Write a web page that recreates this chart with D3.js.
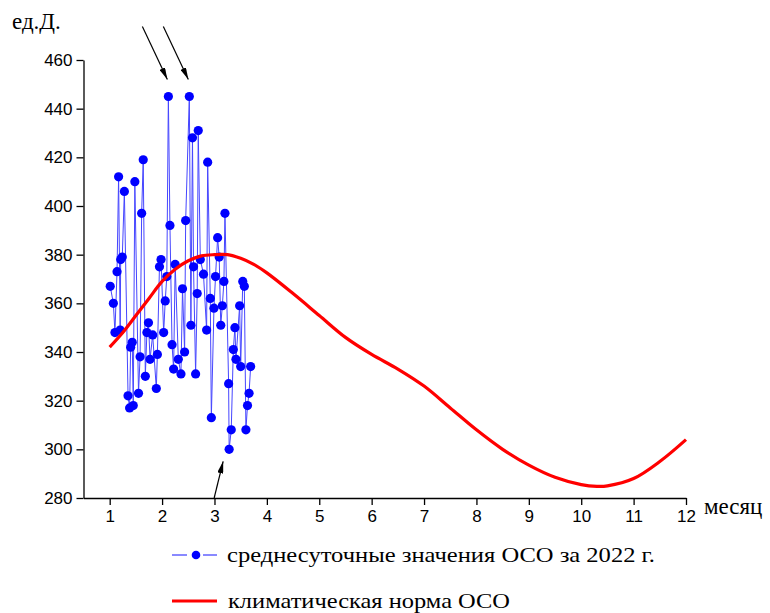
<!DOCTYPE html>
<html>
<head>
<meta charset="utf-8">
<script src="https://cdn.jsdelivr.net/npm/d3@7"></script>
<style>
  html, body { margin: 0; padding: 0; background: #fff; }
  svg { display: block; }
</style>
</head>
<body>
<svg id="chart" width="770" height="613"></svg>
<script>
// ---- data ----
const obsMonth = [1.01,1.07,1.10,1.14,1.17,1.20,1.21,1.24,1.28,1.35,1.38,1.40,1.43,1.45,1.48,1.55,1.58,1.61,1.64,1.68,1.71,1.74,1.77,1.82,1.89,1.91,1.95,1.98,2.03,2.06,2.09,2.12,2.15,2.19,2.22,2.25,2.31,2.36,2.39,2.43,2.45,2.52,2.55,2.58,2.60,2.64,2.67,2.69,2.73,2.79,2.85,2.87,2.92,2.94,2.99,3.02,3.06,3.09,3.12,3.15,3.18,3.20,3.27,3.28,3.32,3.36,3.39,3.41,3.48,3.50,3.54,3.57,3.60,3.63,3.66,3.69];
const obsValue = [367,360,348,373,412,349,378,379,406,322,317,342,344,318,410,323,338,397,419,330,348,352,337,347,325,339,375,378,348,361,371,445,392,343,333,376,337,331,366,340,394,445,351,428,375,331,364,431,378,372,349,418,362,313,358,371,387,379,351,359,369,397,327,300,308,341,350,337,359,334,369,367,308,318,323,334];

const normMonth = [1.0,1.25,1.5,1.75,2.0,2.25,2.5,2.75,3.0,3.25,3.5,3.75,4.0,4.5,5.0,5.5,6.0,6.5,7.0,7.5,8.0,8.5,9.0,9.5,10.0,10.3,10.5,11.0,11.5,12.0];
const normValue = [342,348,355,362,369,374,377.5,379.5,380,380,378.5,376,372.5,364,355,346,339,333,326,317,308,300,293.5,288.5,285.5,284.8,285,288,295,304];

const xTicks = [1,2,3,4,5,6,7,8,9,10,11,12];
const yTicks = [280,300,320,340,360,380,400,420,440,460];

const yLabel = "ед.Д.";
const xLabel = "месяц";
const legendObs = "среднесуточные значения ОСО за 2022 г.";
const legendNorm = "климатическая норма ОСО";

// highlighted observations (indices into obsValue) for arrows
const arrowUp = [31, 41];   // the two 445 peaks
const arrowLow = [63];      // the 300 minimum

// ---- drawing ----
const svg = d3.select("#chart");
const x = d3.scaleLinear().domain([0.5, 12]).range([83.5, 686]);
const y = d3.scaleLinear().domain([280, 460]).range([498, 60]);

const sans = "Arial, 'Liberation Sans', sans-serif";
const serif = "'Times New Roman', 'Liberation Serif', serif";

// axes
const xAxis = svg.append("g")
  .attr("transform", `translate(0,${y(280)})`)
  .call(d3.axisBottom(x).tickValues(xTicks).tickFormat(d3.format("d")).tickSize(7).tickSizeOuter(0).tickPadding(5));
const yAxis = svg.append("g")
  .attr("transform", `translate(${x(0.5)},0)`)
  .call(d3.axisLeft(y).tickValues(yTicks).tickFormat(d3.format("d")).tickSize(7).tickSizeOuter(0).tickPadding(4));
[xAxis, yAxis].forEach(g => {
  g.select(".domain").attr("stroke", "#000").attr("stroke-width", 1.3);
  g.selectAll(".tick line").attr("stroke", "#000").attr("stroke-width", 1.3);
  g.selectAll(".tick text").attr("fill", "#000").style("font-family", sans).style("font-size", "17px");
});

// axis titles
svg.append("text").attr("x", 12).attr("y", 29)
  .style("font-family", serif).style("font-size", "23px").text(yLabel);
svg.append("text").attr("x", 704).attr("y", 514)
  .style("font-family", serif).style("font-size", "23px").text(xLabel);

// observed series
const obs = obsMonth.map((m, i) => ({ m, v: obsValue[i] }));
svg.append("path").datum(obs)
  .attr("fill", "none").attr("stroke", "#4646ff").attr("stroke-width", 1)
  .attr("d", d3.line().x(d => x(d.m)).y(d => y(d.v)));
svg.append("g").selectAll("circle").data(obs).join("circle")
  .attr("cx", d => x(d.m)).attr("cy", d => y(d.v)).attr("r", 4.6)
  .attr("fill", "#0000ff");

// climatic norm
const norm = normMonth.map((m, i) => ({ m, v: normValue[i] }));
svg.append("path").datum(norm)
  .attr("fill", "none").attr("stroke", "#ff0000").attr("stroke-width", 3.2)
  .attr("d", d3.line().curve(d3.curveCatmullRom.alpha(0.5)).x(d => x(d.m)).y(d => y(d.v)));

// arrows
const defs = svg.append("defs");
defs.append("marker").attr("id", "ah").attr("viewBox", "0 0 12 6")
  .attr("refX", 12).attr("refY", 3).attr("markerWidth", 12).attr("markerHeight", 6)
  .attr("markerUnits", "userSpaceOnUse").attr("orient", "auto")
  .append("path").attr("d", "M0,0 L12,3 L0,6 Z").attr("fill", "#000");

arrowUp.forEach(i => {
  const px = x(obsMonth[i]), py = y(obsValue[i]);
  svg.append("line")
    .attr("x1", px - 26).attr("y1", py - 70).attr("x2", px - 1).attr("y2", py - 17)
    .attr("stroke", "#000").attr("stroke-width", 1.2).attr("marker-end", "url(#ah)");
});
arrowLow.forEach(i => {
  const px = x(obsMonth[i]), py = y(obsValue[i]);
  svg.append("line")
    .attr("x1", px - 15).attr("y1", y(280)).attr("x2", px - 6).attr("y2", py + 12)
    .attr("stroke", "#000").attr("stroke-width", 1.2).attr("marker-end", "url(#ah)");
});

// legend
const lg = svg.append("g");
lg.append("line").attr("x1", 172).attr("x2", 187).attr("y1", 555).attr("y2", 555).attr("stroke", "#3a3aff").attr("stroke-width", 1.2);
lg.append("line").attr("x1", 203).attr("x2", 217).attr("y1", 555).attr("y2", 555).attr("stroke", "#3a3aff").attr("stroke-width", 1.2);
lg.append("circle").attr("cx", 196).attr("cy", 555).attr("r", 4.3).attr("fill", "#0000ff");
lg.append("text").attr("x", 227).attr("y", 562).style("font-family", serif).style("font-size", "21px")
  .attr("textLength", 428).attr("lengthAdjust", "spacingAndGlyphs").text(legendObs);
lg.append("line").attr("x1", 172).attr("x2", 217).attr("y1", 601).attr("y2", 601).attr("stroke", "#ff0000").attr("stroke-width", 3.2);
lg.append("text").attr("x", 228).attr("y", 608).style("font-family", serif).style("font-size", "21px")
  .attr("textLength", 282).attr("lengthAdjust", "spacingAndGlyphs").text(legendNorm);
</script>
</body>
</html>
